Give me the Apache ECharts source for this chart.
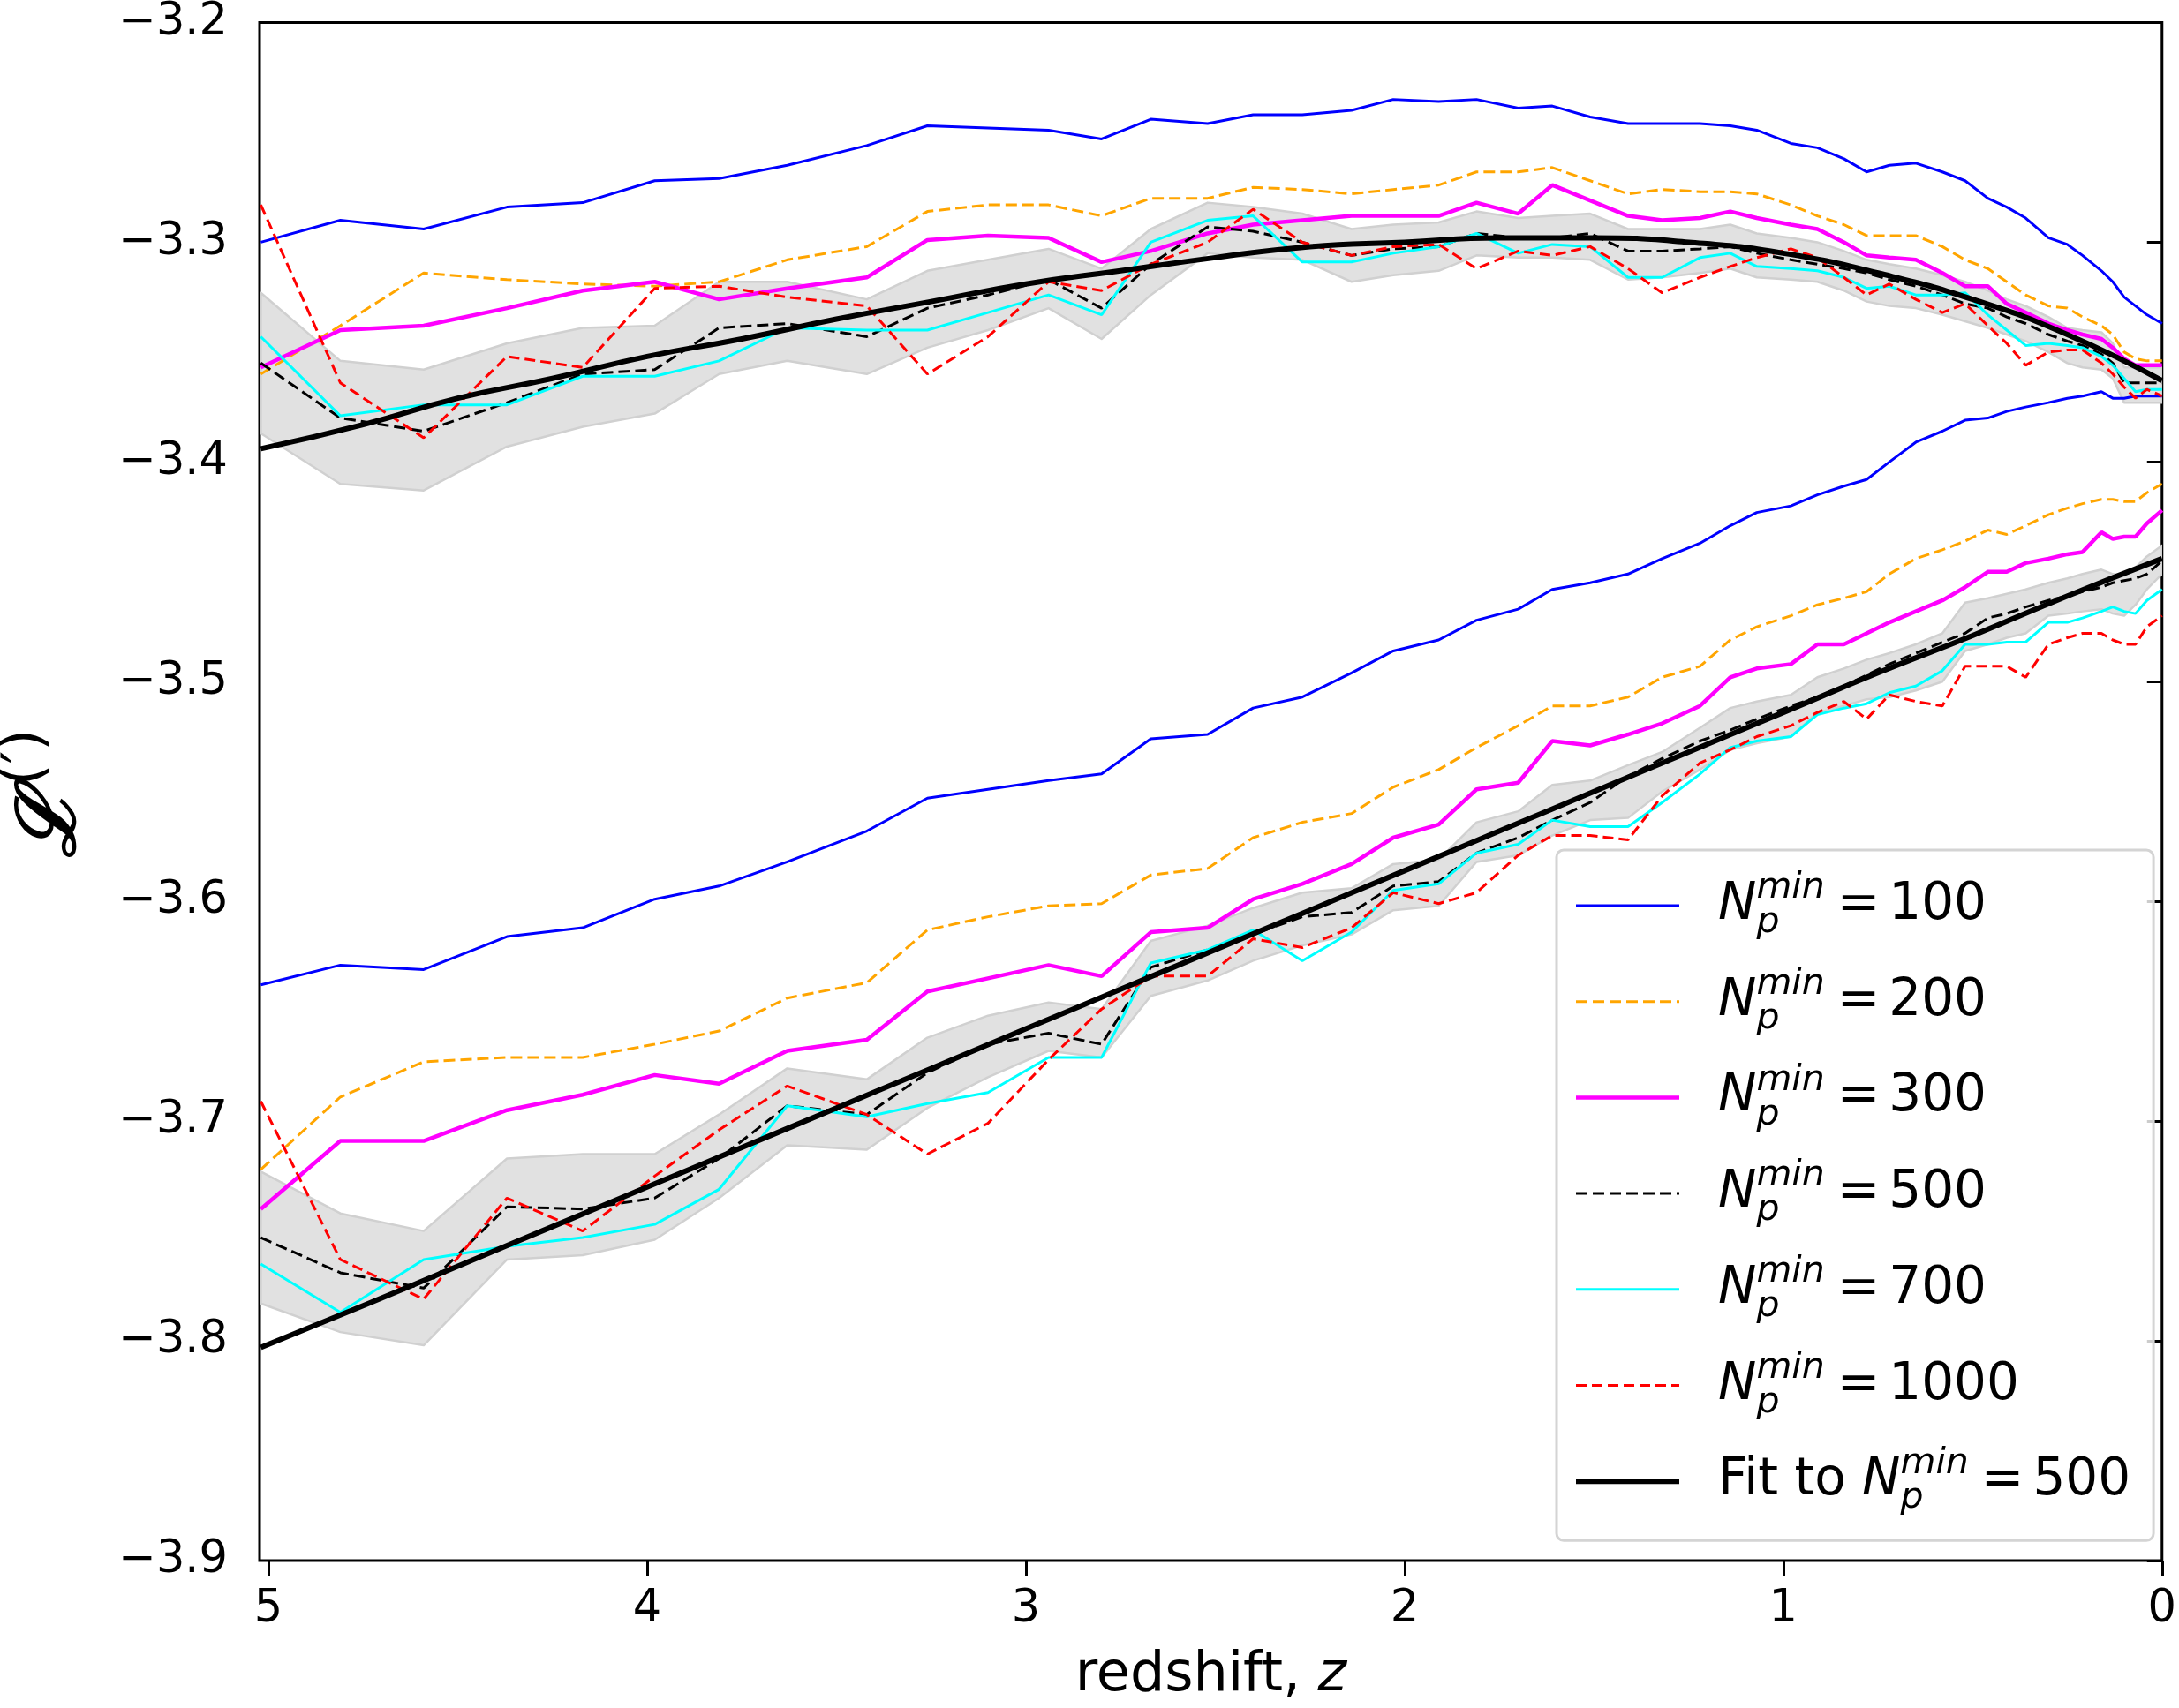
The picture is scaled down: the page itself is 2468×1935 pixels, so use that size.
<!DOCTYPE html>
<html><head><meta charset="utf-8">
<script src="https://cdn.jsdelivr.net/npm/echarts@6/dist/echarts.min.js"></script>
<style>html,body{margin:0;padding:0;background:#fff}#c{width:2468px;height:1935px}</style>
</head><body><div id="c"></div>
<script>
// redshift snapshots
const Z = [5.02,4.81,4.59,4.37,4.17,3.98,3.81,3.63,3.42,3.26,3.10,2.94,2.80,2.67,2.52,2.40,2.27,2.14,2.03,1.91,1.81,1.70,1.61,1.51,1.41,1.32,1.22,1.14,1.07,0.98,0.91,0.84,0.78,0.72,0.65,0.58,0.52,0.46,0.41,0.36,0.30,0.25,0.21,0.16,0.13,0.10,0.07,0.04,0.00];

// upper group
const up100 = [-3.300,-3.290,-3.294,-3.284,-3.282,-3.272,-3.271,-3.265,-3.256,-3.247,-3.248,-3.249,-3.253,-3.244,-3.246,-3.242,-3.242,-3.240,-3.235,-3.236,-3.235,-3.239,-3.238,-3.243,-3.246,-3.246,-3.246,-3.247,-3.249,-3.255,-3.257,-3.262,-3.268,-3.265,-3.264,-3.268,-3.272,-3.280,-3.284,-3.289,-3.298,-3.301,-3.306,-3.313,-3.318,-3.325,-3.329,-3.333,-3.337];
const up200 = [-3.360,-3.338,-3.314,-3.317,-3.319,-3.320,-3.318,-3.308,-3.302,-3.286,-3.283,-3.283,-3.288,-3.280,-3.280,-3.275,-3.276,-3.278,-3.276,-3.274,-3.268,-3.268,-3.266,-3.272,-3.278,-3.276,-3.277,-3.277,-3.278,-3.283,-3.288,-3.292,-3.297,-3.297,-3.297,-3.302,-3.308,-3.312,-3.318,-3.324,-3.329,-3.330,-3.334,-3.338,-3.342,-3.350,-3.353,-3.354,-3.354];
const up300 = [-3.357,-3.340,-3.338,-3.330,-3.322,-3.318,-3.326,-3.321,-3.316,-3.299,-3.297,-3.298,-3.309,-3.304,-3.296,-3.292,-3.290,-3.288,-3.288,-3.288,-3.282,-3.287,-3.274,-3.281,-3.288,-3.290,-3.289,-3.286,-3.289,-3.292,-3.294,-3.300,-3.306,-3.307,-3.308,-3.314,-3.320,-3.320,-3.328,-3.332,-3.337,-3.340,-3.342,-3.344,-3.348,-3.353,-3.356,-3.356,-3.356];
const up500 = [-3.355,-3.380,-3.386,-3.373,-3.360,-3.358,-3.339,-3.337,-3.343,-3.330,-3.324,-3.317,-3.330,-3.310,-3.293,-3.295,-3.300,-3.306,-3.303,-3.302,-3.296,-3.298,-3.298,-3.296,-3.304,-3.304,-3.303,-3.302,-3.305,-3.308,-3.310,-3.312,-3.314,-3.317,-3.320,-3.324,-3.328,-3.330,-3.334,-3.337,-3.342,-3.345,-3.347,-3.351,-3.355,-3.364,-3.364,-3.364,-3.364];
const up700 = [-3.343,-3.379,-3.374,-3.374,-3.361,-3.361,-3.354,-3.339,-3.340,-3.340,-3.332,-3.324,-3.333,-3.300,-3.290,-3.288,-3.309,-3.309,-3.305,-3.302,-3.296,-3.305,-3.301,-3.302,-3.316,-3.316,-3.307,-3.305,-3.311,-3.312,-3.313,-3.316,-3.321,-3.320,-3.324,-3.324,-3.323,-3.333,-3.340,-3.347,-3.346,-3.347,-3.348,-3.352,-3.356,-3.362,-3.368,-3.367,-3.367];
const up1000 = [-3.283,-3.364,-3.389,-3.352,-3.357,-3.321,-3.320,-3.325,-3.329,-3.360,-3.343,-3.318,-3.322,-3.310,-3.300,-3.285,-3.300,-3.306,-3.302,-3.301,-3.312,-3.304,-3.306,-3.302,-3.312,-3.323,-3.316,-3.311,-3.307,-3.303,-3.307,-3.316,-3.324,-3.319,-3.326,-3.332,-3.328,-3.338,-3.346,-3.356,-3.350,-3.349,-3.349,-3.355,-3.360,-3.366,-3.371,-3.367,-3.370];
const upBandHi = [-3.323,-3.354,-3.358,-3.346,-3.339,-3.338,-3.318,-3.318,-3.326,-3.313,-3.308,-3.303,-3.312,-3.294,-3.282,-3.284,-3.287,-3.294,-3.292,-3.291,-3.286,-3.289,-3.288,-3.287,-3.294,-3.294,-3.294,-3.292,-3.296,-3.298,-3.300,-3.304,-3.308,-3.310,-3.312,-3.315,-3.318,-3.322,-3.326,-3.329,-3.334,-3.339,-3.340,-3.341,-3.346,-3.357,-3.357,-3.357,-3.357];
const upBandLo = [-3.387,-3.410,-3.413,-3.393,-3.384,-3.378,-3.360,-3.354,-3.360,-3.348,-3.340,-3.330,-3.344,-3.324,-3.305,-3.307,-3.308,-3.318,-3.315,-3.313,-3.306,-3.307,-3.307,-3.308,-3.317,-3.316,-3.314,-3.312,-3.316,-3.317,-3.318,-3.322,-3.327,-3.329,-3.330,-3.333,-3.336,-3.339,-3.342,-3.345,-3.350,-3.355,-3.357,-3.358,-3.362,-3.373,-3.373,-3.373,-3.373];

// lower group
const lo100 = [-3.638,-3.629,-3.631,-3.616,-3.612,-3.599,-3.593,-3.582,-3.568,-3.553,-3.549,-3.545,-3.542,-3.526,-3.524,-3.512,-3.507,-3.496,-3.486,-3.481,-3.472,-3.467,-3.458,-3.455,-3.451,-3.444,-3.437,-3.429,-3.423,-3.420,-3.415,-3.411,-3.408,-3.400,-3.391,-3.386,-3.381,-3.380,-3.377,-3.375,-3.373,-3.371,-3.370,-3.368,-3.371,-3.371,-3.370,-3.370,-3.370];
const lo200 = [-3.722,-3.689,-3.673,-3.671,-3.671,-3.665,-3.659,-3.644,-3.637,-3.613,-3.607,-3.602,-3.601,-3.588,-3.585,-3.571,-3.564,-3.560,-3.548,-3.540,-3.530,-3.520,-3.511,-3.511,-3.507,-3.498,-3.493,-3.481,-3.475,-3.470,-3.465,-3.462,-3.459,-3.451,-3.444,-3.440,-3.436,-3.431,-3.433,-3.429,-3.424,-3.421,-3.419,-3.417,-3.417,-3.418,-3.418,-3.414,-3.410];
const lo300 = [-3.740,-3.709,-3.709,-3.695,-3.688,-3.679,-3.683,-3.668,-3.663,-3.641,-3.635,-3.629,-3.634,-3.614,-3.612,-3.599,-3.592,-3.583,-3.571,-3.565,-3.549,-3.546,-3.527,-3.529,-3.524,-3.519,-3.511,-3.498,-3.494,-3.492,-3.483,-3.483,-3.478,-3.473,-3.468,-3.463,-3.457,-3.450,-3.450,-3.446,-3.444,-3.442,-3.441,-3.432,-3.435,-3.434,-3.434,-3.428,-3.422];
const lo500 = [-3.753,-3.769,-3.776,-3.739,-3.740,-3.735,-3.717,-3.693,-3.697,-3.678,-3.665,-3.660,-3.665,-3.630,-3.622,-3.615,-3.607,-3.605,-3.593,-3.591,-3.578,-3.571,-3.563,-3.555,-3.543,-3.535,-3.527,-3.522,-3.517,-3.511,-3.507,-3.502,-3.497,-3.492,-3.487,-3.482,-3.478,-3.471,-3.469,-3.466,-3.463,-3.461,-3.459,-3.457,-3.455,-3.454,-3.453,-3.451,-3.445];
const lo700 = [-3.765,-3.787,-3.763,-3.757,-3.753,-3.747,-3.731,-3.693,-3.698,-3.692,-3.687,-3.671,-3.671,-3.628,-3.622,-3.613,-3.627,-3.614,-3.595,-3.592,-3.578,-3.574,-3.563,-3.566,-3.566,-3.555,-3.542,-3.530,-3.527,-3.525,-3.515,-3.512,-3.510,-3.505,-3.502,-3.495,-3.483,-3.483,-3.482,-3.482,-3.473,-3.473,-3.471,-3.468,-3.466,-3.468,-3.469,-3.463,-3.458];
const lo1000 = [-3.691,-3.763,-3.781,-3.735,-3.750,-3.725,-3.704,-3.684,-3.697,-3.715,-3.701,-3.672,-3.649,-3.634,-3.634,-3.617,-3.621,-3.612,-3.596,-3.601,-3.596,-3.579,-3.570,-3.570,-3.572,-3.552,-3.537,-3.531,-3.525,-3.520,-3.514,-3.509,-3.517,-3.506,-3.509,-3.511,-3.493,-3.493,-3.493,-3.498,-3.483,-3.480,-3.478,-3.478,-3.481,-3.483,-3.483,-3.475,-3.470];
const loBandHi = [-3.723,-3.742,-3.750,-3.717,-3.715,-3.715,-3.697,-3.676,-3.681,-3.662,-3.652,-3.646,-3.649,-3.618,-3.611,-3.603,-3.596,-3.594,-3.583,-3.581,-3.564,-3.559,-3.547,-3.545,-3.538,-3.532,-3.521,-3.512,-3.509,-3.506,-3.498,-3.494,-3.490,-3.487,-3.483,-3.478,-3.464,-3.462,-3.460,-3.458,-3.455,-3.453,-3.451,-3.449,-3.451,-3.452,-3.448,-3.443,-3.438];
const loBandLo = [-3.783,-3.796,-3.802,-3.763,-3.761,-3.754,-3.735,-3.711,-3.713,-3.694,-3.680,-3.668,-3.671,-3.643,-3.636,-3.627,-3.620,-3.615,-3.604,-3.602,-3.582,-3.579,-3.570,-3.563,-3.562,-3.550,-3.540,-3.531,-3.528,-3.525,-3.514,-3.511,-3.508,-3.507,-3.504,-3.500,-3.486,-3.483,-3.480,-3.478,-3.470,-3.469,-3.468,-3.467,-3.469,-3.470,-3.465,-3.458,-3.451];

// fits to N=500
const FIT_Z = [5.02,4.75,4.5,4.25,4.0,3.75,3.5,3.25,3.0,2.75,2.5,2.25,2.0,1.75,1.5,1.25,1.0,0.75,0.5,0.25,0];
const fitUp = [-3.394,-3.383,-3.371,-3.362,-3.352,-3.344,-3.335,-3.327,-3.319,-3.313,-3.307,-3.302,-3.300,-3.298,-3.298,-3.300,-3.305,-3.314,-3.326,-3.342,-3.363];
const fitLo = [-3.803,-3.784,-3.766,-3.748,-3.730,-3.712,-3.694,-3.676,-3.658,-3.640,-3.622,-3.604,-3.586,-3.568,-3.550,-3.532,-3.514,-3.496,-3.479,-3.461,-3.444];

const X_TICKS = [0,1,2,3,4,5];
const NAMES = ['N100','N200','N300','N500','N700','N1000','fit'];
const LEG_NUM = {N100:'100',N200:'200',N300:'300',N500:'500',N700:'700',N1000:'1000',fit:'500'};

const FONT = 'DejaVu Sans';
const pairs = (zs, vs) => zs.map((z, i) => [z, vs[i]]);

const STYLE = {
  N100: {color:'#0000ff', width:3, type:'solid'},
  N200: {color:'#ffa500', width:3, type:[13,6]},
  N300: {color:'#ff00ff', width:4.5, type:'solid'},
  N500: {color:'#000000', width:3, type:[13,6]},
  N700: {color:'#00ffff', width:3, type:'solid'},
  N1000:{color:'#ff0000', width:3, type:[12,6]},
  fit:  {color:'#000000', width:6, type:'solid'}
};

function lineSeries(name, zs, vs, smooth) {
  const s = STYLE[name];
  return {
    type:'line', name:name, data:pairs(zs, vs), symbol:'none', smooth:!!smooth,
    lineStyle:{color:s.color, width:s.width, type:s.type},
    itemStyle:{color:s.color}, z:3, silent:true
  };
}
// shaded spread band around N=500, drawn as one polygon through the axes' coordinate system
function bandSeries(lo, hi) {
  return {
    type:'custom', coordinateSystem:'cartesian2d', silent:true, z:1, clip:true,
    data:Z.map((z,i)=>[z, lo[i], hi[i]]),
    encode:{x:0, y:[1,2]},
    renderItem:function(params, api){
      if (params.dataIndexInside !== 0) return null;
      const n = params.dataInsideLength;
      const top = [], bot = [];
      for (let i = 0; i < n; i++) {
        const z = api.value(0, i);
        top.push(api.coord([z, api.value(2, i)]));
        bot.push(api.coord([z, api.value(1, i)]));
      }
      return {type:'polygon', shape:{points:top.concat(bot.reverse())},
        style:{fill:'#e1e1e1', stroke:'#d0d0d0', lineWidth:2.5, lineJoin:'round'}};
    }
  };
}

const series = [
  bandSeries(upBandLo, upBandHi),
  bandSeries(loBandLo, loBandHi),
  lineSeries('N100', Z, up100), lineSeries('N100', Z, lo100),
  lineSeries('N200', Z, up200), lineSeries('N200', Z, lo200),
  lineSeries('N300', Z, up300), lineSeries('N300', Z, lo300),
  lineSeries('N500', Z, up500), lineSeries('N500', Z, lo500),
  lineSeries('N700', Z, up700), lineSeries('N700', Z, lo700),
  lineSeries('N1000', Z, up1000), lineSeries('N1000', Z, lo1000),
  lineSeries('fit', FIT_Z, fitUp, true), lineSeries('fit', FIT_Z, fitLo, true)
];

const legRich = {
  g:{width:39, fontSize:58, lineHeight:80},
  n:{fontSize:58, fontStyle:'italic', lineHeight:80, color:'#000', fontFamily:FONT},
  t:{fontSize:58, lineHeight:80, color:'#000', fontFamily:FONT},
  eq:{fontSize:58, lineHeight:80, color:'#000', fontFamily:FONT, padding:[0,0,0,14]},
  num:{fontSize:58, lineHeight:80, color:'#000', fontFamily:FONT, padding:[0,0,0,10]},
  sup:{fontSize:41, fontStyle:'italic', lineHeight:52, verticalAlign:'top', color:'#000', fontFamily:FONT},
  sub:{fontSize:41, fontStyle:'italic', lineHeight:38, verticalAlign:'bottom', width:0, color:'#000', fontFamily:FONT}
};

const chart = echarts.init(document.getElementById('c'), null, {renderer:'canvas'});
chart.setOption({
  animation:false,
  backgroundColor:'#ffffff',
  grid:{left:294, right:16, top:17, bottom:164, show:true, borderColor:'#000', borderWidth:3, backgroundColor:'transparent', containLabel:false},
  xAxis:{
    type:'value', min:0, max:5.0233, inverse:true,
    name:'{a|redshift, }{b|z}', nameLocation:'middle', nameGap:100,
    nameTextStyle:{rich:{a:{fontSize:62, color:'#000', fontFamily:FONT}, b:{fontSize:62, fontStyle:'italic', color:'#000', fontFamily:FONT}}},
    axisLine:{show:false},
    axisTick:{show:true, inside:false, length:17, lineStyle:{color:'#000', width:3}, customValues:X_TICKS},
    axisLabel:{show:true, margin:30, fontSize:51, color:'#000', fontFamily:FONT, customValues:X_TICKS, formatter:v=>String(Math.round(v))},
    splitLine:{show:false}
  },
  yAxis:{
    type:'value', min:-3.9, max:-3.2, interval:0.1,
    axisLine:{show:false},
    axisTick:{show:true, inside:false, length:17, lineStyle:{color:'#000', width:3}},
    axisLabel:{show:true, margin:36, fontSize:51, color:'#000', fontFamily:FONT,
      formatter:v=>(v<0?'\u2212':'')+Math.abs(v).toFixed(1)},
    splitLine:{show:false}
  },
  graphic:[
    {type:'text', x:60, y:933, rotation:Math.PI/2,
     style:{text:'ℒ', fill:'#000', fontFamily:'DejaVu Serif', fontStyle:'italic', fontWeight:'bold', fontSize:92, align:'center', verticalAlign:'middle'}},
    {type:'text', x:30, y:858, rotation:Math.PI/2,
     style:{text:'(′)', fill:'#000', fontFamily:'DejaVu Sans', fontSize:64, align:'center', verticalAlign:'middle'}}
  ],
  legend:{
    data:NAMES, orient:'vertical', left:1763, top:963, align:'left',
    itemWidth:117, itemHeight:14, itemGap:28.7,
    padding:[23,26,27,19],
    backgroundColor:'rgba(255,255,255,0.8)', borderColor:'#d4d4d4', borderWidth:3, borderRadius:8,
    selectedMode:false,
    itemStyle:{opacity:0, borderWidth:0},
    lineStyle:{width:'inherit', type:'inherit', color:'inherit'},
    textStyle:{color:'#000', fontFamily:FONT, fontSize:58, rich:legRich},
    formatter:function(name){
      const head = name === 'fit' ? '{g| }{t|Fit to }' : '{g| }';
      return head + '{n|N}{sub|p}{sup|min}{eq|=}{num|' + LEG_NUM[name] + '}';
    }
  },
  series:series
});
</script>
</body></html>
